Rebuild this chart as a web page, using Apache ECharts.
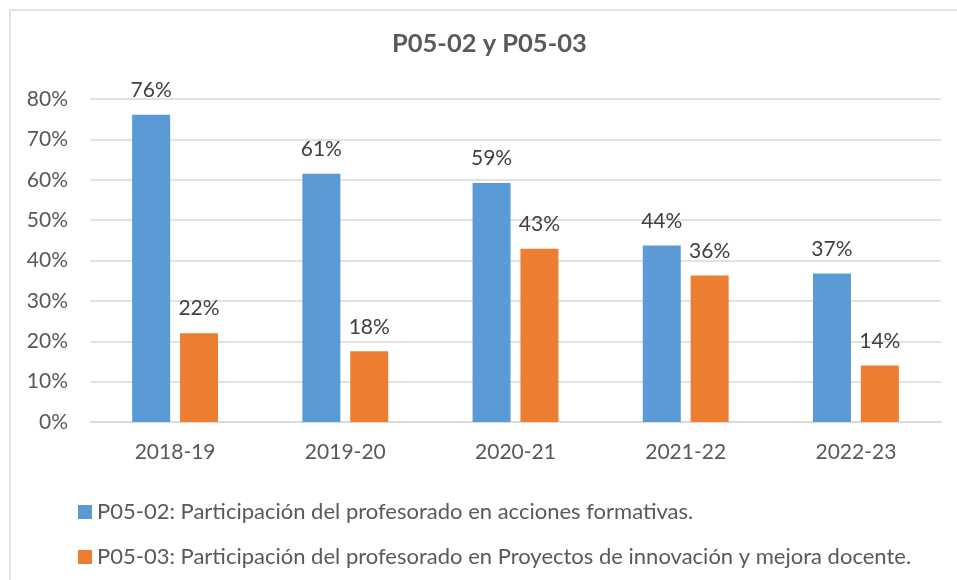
<!DOCTYPE html>
<html>
<head>
<meta charset="utf-8">
<script src="https://cdn.jsdelivr.net/npm/echarts@6/dist/echarts.min.js"></script>
<style>
    html, body { margin: 0; padding: 0; background: #fff; }
    #chart { width: 957px; height: 580px; }
</style>
</head>
<body>
<div id="chart"></div>
<script>
const years = ['2018-19', '2019-20', '2020-21', '2021-22', '2022-23']
const formativas = [76.1, 61.5, 59.2, 43.7, 36.8]
const innovacion = [22.0, 17.5, 42.9, 36.3, 14.0]
const labelsFormativas = ['76%', '61%', '59%', '44%', '37%']
const labelsInnovacion = ['22%', '18%', '43%', '36%', '14%']
const seriesNames = [
    'P05-02: Participación del profesorado en acciones formativas.',
    'P05-03: Participación del profesorado en Proyectos de innovación y mejora docente.'
]

const font = 'Lato, "Noto Sans", sans-serif'

document.addEventListener('DOMContentLoaded', function () {
    const myChart = echarts.init(document.getElementById('chart'))

    const labelStyle = (texts) => ({
        show: true,
        position: 'top',
        distance: 14,
        color: '#404040',
        fontFamily: font,
        fontSize: 21,
        lineHeight: 21,
        formatter: p => texts[p.dataIndex]
    })

    const option = {
        backgroundColor: '#fff',
        animation: false,
        graphic: [
            {
                type: 'rect',
                shape: { x: 10, y: 10, width: 1000, height: 700 },
                style: { fill: 'none', stroke: '#d9d9d9', lineWidth: 1.5 },
                silent: true
            }
        ],
        title: {
            text: 'P05-02 y P05-03',
            left: 392,
            top: 31,
            padding: 0,
            textStyle: {
                color: '#595959',
                fontFamily: font,
                fontSize: 25.5,
                fontWeight: 'bold'
            }
        },
        grid: {
            left: 90,
            right: 16,
            top: 99,
            bottom: 158,
            containLabel: false
        },
        legend: {
            orient: 'vertical',
            left: 73,
            top: 496,
            itemWidth: 14,
            itemHeight: 14,
            itemGap: 23,
            icon: 'rect',
            textStyle: {
                color: '#595959',
                fontFamily: font,
                fontSize: 22,
                lineHeight: 22
            },
            data: seriesNames
        },
        xAxis: {
            type: 'category',
            data: years,
            axisLine: { lineStyle: { color: '#d9d9d9', width: 1.5 } },
            axisTick: { show: false },
            axisLabel: {
                color: '#595959',
                fontFamily: font,
                fontSize: 21,
                margin: 20
            }
        },
        yAxis: {
            type: 'value',
            min: 0,
            max: 80,
            interval: 10,
            axisLine: { show: false },
            axisTick: { show: false },
            axisLabel: {
                formatter: '{value}%',
                color: '#595959',
                fontFamily: font,
                fontSize: 21,
                margin: 22
            },
            splitLine: { lineStyle: { color: '#d9d9d9', width: 1.5 } }
        },
        series: [
            {
                name: seriesNames[0],
                type: 'bar',
                data: formativas,
                barWidth: 38,
                barGap: '26%',
                itemStyle: { color: '#5B9BD5' },
                label: labelStyle(labelsFormativas)
            },
            {
                name: seriesNames[1],
                type: 'bar',
                data: innovacion,
                barWidth: 38,
                itemStyle: { color: '#ED7D31' },
                label: labelStyle(labelsInnovacion)
            }
        ]
    }

    myChart.setOption(option)
})
</script>
</body>
</html>
